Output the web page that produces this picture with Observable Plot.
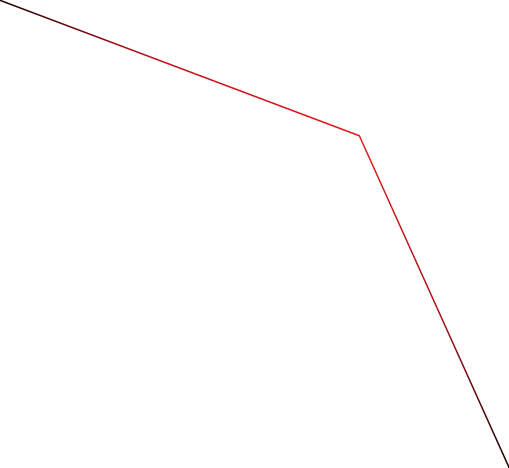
<!DOCTYPE html>
<html>
<head>
<meta charset="utf-8">
<script src="https://cdn.jsdelivr.net/npm/d3@7"></script>
<script src="https://cdn.jsdelivr.net/npm/@observablehq/plot@0.6"></script>
<style>
  html, body { margin: 0; padding: 0; background: #fff; }
</style>
</head>
<body>
<div id="chart"></div>
<script>
const xs = [0, 70.5, 100];
const ys = [100, 71.1, 0];
const gradientStops = [
  {offset: 0, color: "#200000"},
  {offset: 0.3, color: "#c0141c"},
  {offset: 0.705, color: "#e31a1c"},
  {offset: 0.87, color: "#a0141a"},
  {offset: 1, color: "#200000"}
];

const data = xs.map((x, i) => ({x, y: ys[i]}));

function gradientDefs() {
  const ns = "http://www.w3.org/2000/svg";
  const defs = document.createElementNS(ns, "defs");
  const lg = document.createElementNS(ns, "linearGradient");
  lg.setAttribute("id", "line-gradient");
  lg.setAttribute("x1", "0");
  lg.setAttribute("x2", "1");
  lg.setAttribute("y1", "0");
  lg.setAttribute("y2", "0");
  for (const s of gradientStops) {
    const stop = document.createElementNS(ns, "stop");
    stop.setAttribute("offset", s.offset);
    stop.setAttribute("stop-color", s.color);
    lg.appendChild(stop);
  }
  defs.appendChild(lg);
  return defs;
}

const chart = Plot.plot({
  width: 509,
  height: 468,
  margin: 0,
  x: {axis: null, domain: [0, 100]},
  y: {axis: null, domain: [0, 100]},
  marks: [
    gradientDefs,
    Plot.line(data, {x: "x", y: "y", stroke: "url(#line-gradient)", strokeWidth: 1.5})
  ]
});
document.getElementById("chart").appendChild(chart);
</script>
</body>
</html>
